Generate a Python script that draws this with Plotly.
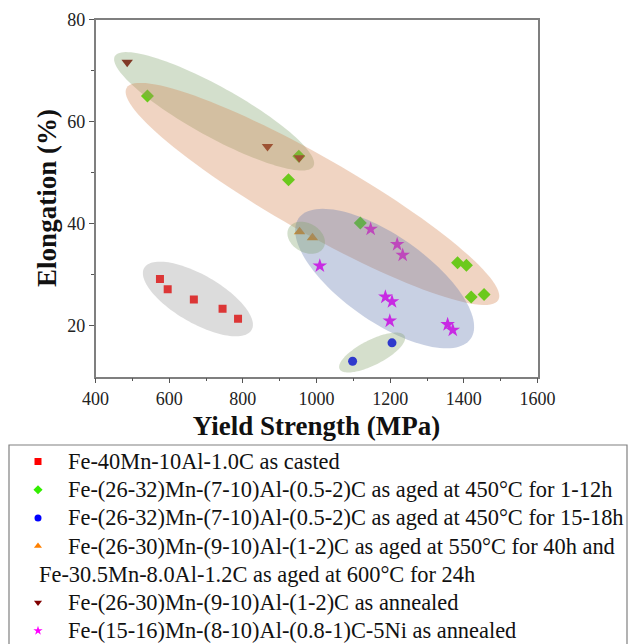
import numpy as np
import plotly.graph_objects as go

# ---- data ----
red_x = [575, 596, 667, 745, 787]
red_y = [29.1, 27.1, 25.1, 23.3, 21.3]
green_x = [541, 924, 952, 1119, 1383, 1407, 1420, 1455]
green_y = [65.0, 48.6, 53.2, 40.1, 32.3, 31.8, 25.6, 26.1]
blue_x = [1098, 1205]
blue_y = [13.0, 16.6]
orange_x = [954, 989]
orange_y = [38.4, 37.2]
darkred_x = [486, 867, 953]
darkred_y = [71.6, 55.1, 52.9]
star_x = [1009, 1147, 1187, 1199, 1205, 1219, 1234, 1356, 1370]
star_y = [31.7, 38.9, 25.6, 20.9, 24.7, 35.9, 33.8, 20.2, 19.1]

names = [
    ["Fe-40Mn-10Al-1.0C as casted"],
    ["Fe-(26-32)Mn-(7-10)Al-(0.5-2)C as aged at 450°C for 1-12h"],
    ["Fe-(26-32)Mn-(7-10)Al-(0.5-2)C as aged at 450°C for 15-18h"],
    ["Fe-(26-30)Mn-(9-10)Al-(1-2)C as aged at 550°C for 40h and",
     "Fe-30.5Mn-8.0Al-1.2C as aged at 600°C for 24h"],
    ["Fe-(26-30)Mn-(9-10)Al-(1-2)C as annealed"],
    ["Fe-(15-16)Mn-(8-10)Al-(0.8-1)C-5Ni as annealed"],
]

# ellipse groups: center (data), semi-axes (px), angle (deg, screen), fill colour
ellipse_center_x = [678, 722, 989, 1185, 1151, 972]
ellipse_center_y = [25.2, 62.0, 45.8, 29.2, 14.7, 37.2]
ellipse_a_px = [62, 113.5, 214, 105, 36.5, 20]
ellipse_b_px = [24, 25, 38, 43, 12.5, 14.5]
ellipse_angle = [30, 29, 29.7, 35, -27, 30]
ellipse_color = ["rgba(155,155,155,0.35)", "rgba(129,164,109,0.35)",
                 "rgba(212,132,81,0.35)", "rgba(98,121,175,0.35)",
                 "rgba(135,164,109,0.35)", "rgba(129,164,109,0.35)"]

X_RANGE = [400, 1600]
Y_RANGE = [10, 80]
W, H = 629, 644
PL, PR, PT, PB = 95.5, 537.5, 19.5, 376.5   # plot area in pixels
sx = (PR - PL) / (X_RANGE[1] - X_RANGE[0])
sy = (PB - PT) / (Y_RANGE[1] - Y_RANGE[0])

FONT = "Liberation Serif"

fig = go.Figure()
series = [
    (red_x, red_y, "square", "#ff0000", 8),
    (green_x, green_y, "diamond", "#33ee00", 10),
    (blue_x, blue_y, "circle", "#0000ff", 9),
    (orange_x, orange_y, "triangle-up", "#ff8000", 10),
    (darkred_x, darkred_y, "triangle-down", "#800000", 10),
    (star_x, star_y, "star", "#ff00ff", 11),
]
for (xs, ys, sym, col, sz), nm in zip(series, names):
    fig.add_trace(go.Scatter(x=xs, y=ys, mode="markers", name=" ".join(nm),
                             showlegend=False, xaxis="x", yaxis="y",
                             marker=dict(symbol=sym, color=col, size=sz,
                                         line=dict(width=0))))

t = np.linspace(0, 2 * np.pi, 121)
for cx, cy, a, b, ang, col in zip(ellipse_center_x, ellipse_center_y, ellipse_a_px,
                                  ellipse_b_px, ellipse_angle, ellipse_color):
    th = np.radians(ang)
    dx = a * np.cos(t) * np.cos(th) - b * np.sin(t) * np.sin(th)
    dy = a * np.cos(t) * np.sin(th) + b * np.sin(t) * np.cos(th)
    xs = cx + dx / sx
    ys = cy - dy / sy
    path = "M " + " L ".join(f"{x:.3f},{y:.3f}" for x, y in zip(xs, ys)) + " Z"
    fig.add_shape(type="path", path=path, xref="x", yref="y",
                  fillcolor=col, line=dict(width=0), layer="above")

# ---- legend box below the chart (pixel coordinate overlay axes x2/y2) ----
LEG_TOP, LEG_ROW0, LEG_STEP = 445, 461.5, 28.2
row = 0
leg_mx, leg_my, leg_sym, leg_col = [], [], [], []
for (xs, ys, sym, col, sz), lines in zip(series, names):
    leg_mx.append(38)
    leg_my.append(LEG_ROW0 + row * LEG_STEP)
    leg_sym.append(sym)
    leg_col.append(col)
    for k, line in enumerate(lines):
        fig.add_annotation(x=66 if k == 0 else 37, y=LEG_ROW0 + row * LEG_STEP,
                           xref="x2", yref="y2", text=line, showarrow=False,
                           xanchor="left", yanchor="middle",
                           font=dict(family=FONT, size=22.4, color="#111"))
        row += 1
fig.add_trace(go.Scatter(x=leg_mx, y=leg_my, mode="markers", xaxis="x2", yaxis="y2",
                         showlegend=False, hoverinfo="skip", cliponaxis=False,
                         marker=dict(symbol=leg_sym, color=leg_col, size=7,
                                     line=dict(width=0))))
fig.add_shape(type="rect", xref="x2", yref="y2", x0=9, x1=627, y0=LEG_TOP, y1=H + 20,
              line=dict(color="#808080", width=1.2), fillcolor="rgba(0,0,0,0)")

axis_common = dict(showline=True, linecolor="#7f7f7f", linewidth=1.5, mirror=True,
                   ticks="outside", ticklen=5, tickcolor="#555", tickwidth=1,
                   showgrid=False, zeroline=False,
                   tickfont=dict(family=FONT, size=18, color="#222"))

fig.update_layout(
    width=W, height=H,
    margin=dict(l=0, r=0, t=0, b=0, autoexpand=False),
    paper_bgcolor="white", plot_bgcolor="rgba(0,0,0,0)",
    showlegend=False,
    xaxis=dict(domain=[PL / W, PR / W], anchor="y", range=X_RANGE, dtick=200, tick0=400,
               minor=dict(ticks="outside", ticklen=3, dtick=100, tickcolor="#555"),
               title=dict(text="<b>Yield Strength (MPa)</b>",
                          font=dict(family=FONT, size=27, color="#111"), standoff=8),
               **axis_common),
    yaxis=dict(domain=[1 - PB / H, 1 - PT / H], anchor="x", range=Y_RANGE,
               tickvals=[20, 40, 60, 80],
               minor=dict(ticks="outside", ticklen=3, tickvals=[30, 50, 70], tickcolor="#555"),
               title=dict(text="<b>Elongation (%)</b>",
                          font=dict(family=FONT, size=27, color="#111"), standoff=3),
               **axis_common),
    xaxis2=dict(domain=[0, 1], anchor="y2", range=[0, W], visible=False, fixedrange=True),
    yaxis2=dict(domain=[0, 1], anchor="x2", range=[H, 0], visible=False, fixedrange=True),
)

fig.write_html("out.html")
